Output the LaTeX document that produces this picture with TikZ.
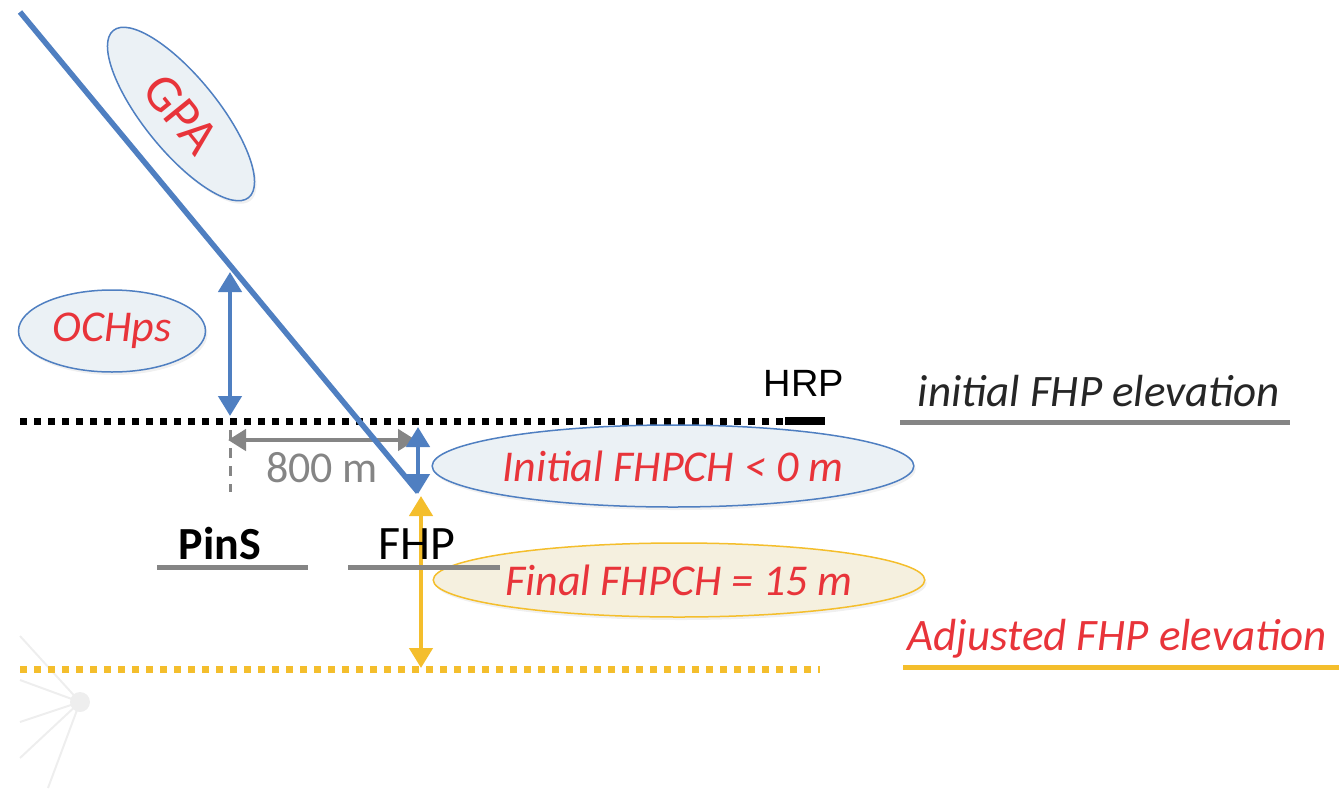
\documentclass[tikz,border=0pt]{standalone}
\usepackage{fontspec}
\setmainfont{Carlito}
\newfontfamily\arialf{Liberation Sans}
\usetikzlibrary{shapes.geometric,arrows.meta,shadows}
\definecolor{lblue}{HTML}{4F7FC1}
\definecolor{lred}{HTML}{E8343A}
\definecolor{lyellow}{HTML}{F4BE2C}
\definecolor{lgray}{HTML}{858585}
\definecolor{bfill}{HTML}{EBF1F5}
\definecolor{yfill}{HTML}{F5F0DF}
\definecolor{faint}{HTML}{EEEEEE}
\begin{document}
\begin{tikzpicture}[x=1pt,y=-1pt,
  big/.style={font=\fontsize{44}{48}\selectfont},
  lab/.style={big, text=lred, font=\fontsize{44}{48}\selectfont\itshape},
  bbubble/.style={ellipse, draw=lblue, line width=1.5pt, fill=bfill, inner sep=0pt,
     drop shadow={opacity=0.12, shadow xshift=2pt, shadow yshift=-3pt}},
  ybubble/.style={ellipse, draw=lyellow, line width=1.5pt, fill=yfill, inner sep=0pt,
     drop shadow={opacity=0.12, shadow xshift=2pt, shadow yshift=-3pt}},
  bluearrow/.style={draw=lblue, line width=4.5pt,
     {Triangle[width=23pt,length=20pt]}-{Triangle[width=23pt,length=20pt]}},
  yelarrow/.style={draw=lyellow, line width=4.5pt,
     {Triangle[width=23pt,length=20pt]}-{Triangle[width=23pt,length=20pt]}},
  grayarrow/.style={draw=lgray, line width=4.5pt,
     {Triangle[width=21pt,length=18pt]}-{Triangle[width=21pt,length=18pt]}},
  uline/.style={draw=lgray, line width=5pt},
  dotline/.style={line width=7pt, dash pattern=on 7pt off 7pt},
]
\useasboundingbox (0,0) rectangle (1339,788);

% faint background sunburst
\coordinate (sun) at (80,702);
\foreach \p in {(20,636),(20,680),(20,722),(20,758),(48,788)}
  \draw[faint, line width=2pt] (sun) -- \p;
\fill[faint] (sun) circle (10pt);

% levels
\coordinate (lvlL) at (20,421);
\coordinate (lvlR) at (785,421);
\coordinate (hrpR) at (825,421);
\draw[dotline, black] (lvlL) -- (lvlR);
\draw[black, line width=8pt] (lvlR) -- (hrpR);
\node[font=\arialf\fontsize{38}{40}\selectfont, anchor=base] (hrp) at (804,396) {HRP};

\coordinate (ylL) at (20,669);
\coordinate (ylR) at (820,669);
\draw[dotline, lyellow] (ylL) -- (ylR);

% legend texts on the right
\node[big, font=\fontsize{45}{48}\selectfont\itshape, text=black!85, anchor=base] (initel) at (1099,406) {initial FHP elevation};
\coordinate (ulA1) at (900,422); \coordinate (ulA2) at (1290,422);
\draw[uline] (ulA1) -- (ulA2);
\node[lab, font=\fontsize{45}{48}\selectfont\itshape, anchor=base] (adjel) at (1117,650) {Adjusted FHP elevation};
\coordinate (ulB1) at (903,667); \coordinate (ulB2) at (1339,667);
\draw[draw=lyellow, line width=5pt] (ulB1) -- (ulB2);

% 800 m
\coordinate (pinsTop) at (230,430);
\coordinate (pinsBot) at (230,492);
\draw[lgray, line width=3pt, dash pattern=on 10pt off 8pt] (pinsTop) -- (pinsBot);
\coordinate (dimL) at (228,440);
\coordinate (dimR) at (416,440);
\draw[grayarrow] (dimL) -- (dimR);
\node[big, text=lgray, font=\fontsize{44}{48}\selectfont, anchor=base] (m800) at (322,482) {800 m};

% OCHps
\coordinate (ochTop) at (230,272);
\coordinate (ochBot) at (230,416);
\draw[bluearrow] (ochTop) -- (ochBot);
\node[bbubble, lab, minimum width=187pt, minimum height=82pt] (och) at (112,331) {OCHps};

% GPA line
\coordinate (gpaStart) at (20,12);
\coordinate (fhpPt) at (418,492);
\draw[lblue, line width=5.5pt] (gpaStart) -- (fhpPt);
\node[bbubble, text=lred, font=\fontsize{52}{54}\selectfont, minimum width=215pt, minimum height=74pt, rotate=-51] (gpa) at (181,114) {GPA};

% FHPCH arrows
\coordinate (fA) at (418,427);
\coordinate (fB) at (418,494);
\draw[bluearrow] (fA) -- (fB);
\coordinate (yA) at (421,496);
\coordinate (yB) at (421,668);
\draw[yelarrow] (yA) -- (yB);

% bubbles
\node[bbubble, lab, minimum width=477pt, minimum height=82pt] (init) at (673,466) {Initial FHPCH < 0 m};
\node[ybubble, lab, minimum width=472pt, minimum height=74pt] (final) at (679,580) {Final FHPCH = 15 m};

% PinS / FHP
\node[font=\fontsize{46}{48}\selectfont\bfseries, anchor=base] (pins) at (220,559) {PinS};
\coordinate (ulC1) at (157,567); \coordinate (ulC2) at (308,567);
\draw[uline] (ulC1) -- (ulC2);
\node[font=\fontsize{48}{48}\selectfont, anchor=base] (fhp) at (417,559) {FHP};
\coordinate (ulD1) at (348,567); \coordinate (ulD2) at (500,567);
\draw[uline] (ulD1) -- (ulD2);
\end{tikzpicture}
\end{document}
